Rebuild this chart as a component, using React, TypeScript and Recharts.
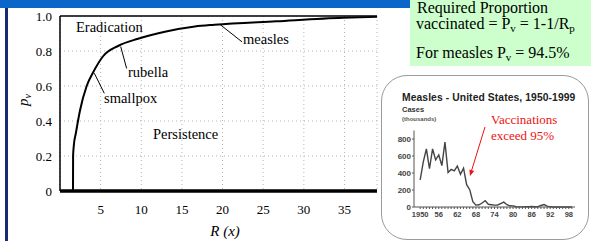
import React from "react"
import {
  LineChart,
  Line,
  XAxis,
  YAxis,
  CartesianGrid,
  ReferenceLine,
} from "recharts"

// main curve: required proportion vaccinated vs R
const rValues = [1.6, 1.61, 1.7, 1.95, 2.46, 3.28, 4.1, 5.3, 7.2, 9.6, 12.9, 16.6, 19, 26.6, 34.8, 39]
const pvValues = [0, 0.2, 0.26, 0.33, 0.46, 0.6, 0.68, 0.77, 0.83, 0.87, 0.91, 0.94, 0.95, 0.97, 0.99, 0.995]
const rTicks = [5, 10, 15, 20, 25, 30, 35]
const pvTicks = [0, 0.2, 0.4, 0.6, 0.8, 1]

// leader lines from the curve to the disease labels (data coords)
const pointers = [
  { name: "measles", from: [19.7, 0.951], to: [22.4, 0.852] },
  { name: "rubella", from: [7.47, 0.825], to: [8.2, 0.7] },
  { name: "smallpox", from: [4.22, 0.673], to: [5.45, 0.558] },
]

// inset: US measles cases (thousands) 1950-1999
const caseYears = [
  1950, 1951, 1952, 1953, 1954, 1955, 1956, 1957, 1958, 1959,
  1960, 1961, 1962, 1963, 1964, 1965, 1966, 1967, 1968, 1969,
  1970, 1971, 1972, 1973, 1974, 1975, 1976, 1977, 1978, 1979,
  1980, 1981, 1982, 1983, 1984, 1985, 1986, 1987, 1988, 1989,
  1990, 1991, 1992, 1993, 1994, 1995, 1996, 1997, 1998, 1999,
]
const caseCounts = [
  320, 530, 683, 450, 683, 555, 612, 487, 763, 406,
  442, 424, 482, 385, 458, 262, 204, 63, 22, 26,
  47, 75, 32, 27, 22, 24, 41, 57, 27, 14,
  13, 3, 2, 1.5, 2.6, 2.8, 6.3, 3.7, 3.4, 18,
  28, 9.6, 2.2, 0.3, 1, 0.3, 0.5, 0.1, 0.1, 0.1,
]
const yearLabels = [1950, 1956, 1962, 1968, 1974, 1980, 1986, 1992, 1998]
const caseTicks = [0, 200, 400, 600, 800]

const serif = '"Liberation Serif", "Times New Roman", serif'
const sans = '"Liberation Sans", Arial, sans-serif'

function Label({ x, y, children, size = 14.5 }: { x: number; y: number; children: React.ReactNode; size?: number }) {
  return (
    <div
      style={{
        position: "absolute",
        left: x,
        top: y - size / 2 - 1,
        fontSize: size,
        lineHeight: `${size}px`,
        fontFamily: serif,
        whiteSpace: "nowrap",
        color: "#000",
      }}
    >
      {children}
    </div>
  )
}

export default function App() {
  const curve = rValues.map((r, i) => ({ r, pv: pvValues[i] }))
  const cases = caseYears.map((year, i) => ({ year, cases: caseCounts[i] }))

  return (
    <div
      style={{
        position: "absolute",
        left: 0,
        top: 0,
        width: 591,
        height: 241,
        overflow: "hidden",
        background: "#fff",
        fontFamily: serif,
      }}
    >
      {/* slide chrome */}
      <div style={{ position: "absolute", left: 0, top: 0, width: 410, height: 8, background: "#0a66c8" }} />
      <div style={{ position: "absolute", left: 5, top: 8, width: 3, height: 233, background: "#152c70" }} />

      {/* main chart */}
      <div style={{ position: "absolute", left: 0, top: 0 }}>
        <LineChart width={380} height={241} data={curve} margin={{ top: 16, right: 3, bottom: 0, left: 0 }}>
          <CartesianGrid stroke="#b4b4b4" strokeDasharray="1 3" />
          <XAxis
            type="number"
            dataKey="r"
            domain={[0, 39]}
            ticks={rTicks}
            height={50}
            axisLine={{ stroke: "#000", strokeWidth: 3.5 }}
            tickLine={false}
            tickSize={6}
            tickMargin={8}
            tick={{ fontSize: 13, fill: "#000", fontFamily: serif }}
          />
          <YAxis
            type="number"
            domain={[0, 1]}
            ticks={pvTicks}
            width={60}
            axisLine={{ stroke: "#000", strokeWidth: 1.5 }}
            tickLine={false}
            tickSize={6}
            tickMargin={2}
            tickFormatter={(v) => (v === 0 ? "0" : Number(v).toFixed(1))}
            tick={{ fontSize: 13, fill: "#000", fontFamily: serif }}
          />
          <ReferenceLine y={1} stroke="#000" strokeWidth={1.5} />
          {pointers.map((p) => (
            <ReferenceLine
              key={p.name}
              segment={[
                { x: p.from[0], y: p.from[1] },
                { x: p.to[0], y: p.to[1] },
              ]}
              stroke="#000"
              strokeWidth={1}
            />
          ))}
          <Line
            type="monotone"
            dataKey="pv"
            stroke="#000"
            strokeWidth={2}
            dot={false}
            isAnimationActive={false}
          />
        </LineChart>
      </div>

      <Label x={76} y={28}>Eradication</Label>
      <Label x={243} y={40}>measles</Label>
      <Label x={128} y={73}>rubella</Label>
      <Label x={104} y={99}>smallpox</Label>
      <Label x={153} y={135}>Persistence</Label>

      {/* axis titles */}
      <div
        style={{
          position: "absolute",
          left: 3,
          top: 90,
          width: 40,
          height: 20,
          textAlign: "center",
          fontSize: 15,
          lineHeight: "20px",
          fontStyle: "italic",
          transform: "rotate(-90deg)",
        }}
      >
        p<sub style={{ fontSize: 10, verticalAlign: "-3px" }}>v</sub>
      </div>
      <div
        style={{
          position: "absolute",
          left: 185,
          top: 222,
          width: 80,
          textAlign: "center",
          fontSize: 15,
          lineHeight: "18px",
          fontStyle: "italic",
        }}
      >
        R (x)
      </div>

      {/* formula box */}
      <div
        style={{
          position: "absolute",
          left: 410,
          top: 0,
          width: 181,
          height: 66,
          background: "#ccffcc",
          fontSize: 16,
          lineHeight: "16px",
          color: "#000",
        }}
      >
        <div style={{ position: "absolute", left: 7, top: 0, whiteSpace: "nowrap" }}>Required Proportion</div>
        <div style={{ position: "absolute", left: 6, top: 16, whiteSpace: "nowrap" }}>
          vaccinated = P<sub style={{ fontSize: 11, verticalAlign: "-3px" }}>v</sub> = 1-1/R
          <sub style={{ fontSize: 11, verticalAlign: "-3px" }}>p</sub>
        </div>
        <div style={{ position: "absolute", left: 6, top: 45, whiteSpace: "nowrap" }}>
          For measles P<sub style={{ fontSize: 11, verticalAlign: "-3px" }}>v</sub> = 94.5%
        </div>
      </div>

      {/* inset panel */}
      <div
        style={{
          position: "absolute",
          left: 381,
          top: 75,
          width: 208,
          height: 165,
          border: "1.5px solid #9a9a9a",
          borderRadius: 26,
          background: "#fff",
          boxSizing: "border-box",
        }}
      />
      <div
        style={{
          position: "absolute",
          left: 402,
          top: 91,
          fontFamily: sans,
          fontWeight: 700,
          fontSize: 10.3,
          lineHeight: "13px",
          color: "#222",
          whiteSpace: "nowrap",
          letterSpacing: 0.1,
        }}
      >
        Measles - United States, 1950-1999
      </div>
      <div style={{ position: "absolute", left: 402, top: 105, fontFamily: sans, fontWeight: 700, fontSize: 7.5, lineHeight: "9px", color: "#333" }}>
        Cases
      </div>
      <div style={{ position: "absolute", left: 402, top: 115.5, fontFamily: sans, fontWeight: 700, fontSize: 6, lineHeight: "7px", color: "#555" }}>
        (thousands)
      </div>

      <div style={{ position: "absolute", left: 383, top: 125 }}>
        <LineChart width={197} height={105} data={cases} margin={{ top: 5.5, right: 5, bottom: 0, left: 0 }}>
          <XAxis
            type="number"
            dataKey="year"
            domain={[1948, 2000]}
            ticks={caseYears}
            interval={0}
            height={23}
            axisLine={{ stroke: "#555", strokeWidth: 1 }}
            tickLine={{ stroke: "#555" }}
            tickSize={2}
            tickMargin={3}
            tickFormatter={(v) =>
              yearLabels.includes(v) ? (v === 1950 ? "1950" : String(v).slice(2)) : ""
            }
            tick={{ fontSize: 7.5, fill: "#444", fontFamily: sans, fontWeight: 700 }}
          />
          <YAxis
            type="number"
            domain={[0, 900]}
            ticks={caseTicks}
            width={31}
            axisLine={{ stroke: "#555", strokeWidth: 1 }}
            tickLine={{ stroke: "#555" }}
            tickSize={2}
            tickMargin={1}
            tick={{ fontSize: 8, fill: "#444", fontFamily: sans, fontWeight: 700 }}
          />
          <Line
            type="linear"
            dataKey="cases"
            stroke="#444"
            strokeWidth={1.4}
            dot={false}
            isAnimationActive={false}
          />
        </LineChart>
      </div>

      {/* annotation */}
      <div style={{ position: "absolute", left: 491, top: 112, fontSize: 13, lineHeight: "16px", color: "#ee1111", whiteSpace: "nowrap" }}>
        Vaccinations
        <br />
        exceed 95%
      </div>
      <svg style={{ position: "absolute", left: 0, top: 0 }} width={591} height={241}>
        <line x1={485} y1={127} x2={471.6} y2={170.5} stroke="#ee1111" strokeWidth={1} />
        <polygon points="470,176 474.2,171 469.4,169.5" fill="#ee1111" />
      </svg>
    </div>
  )
}
